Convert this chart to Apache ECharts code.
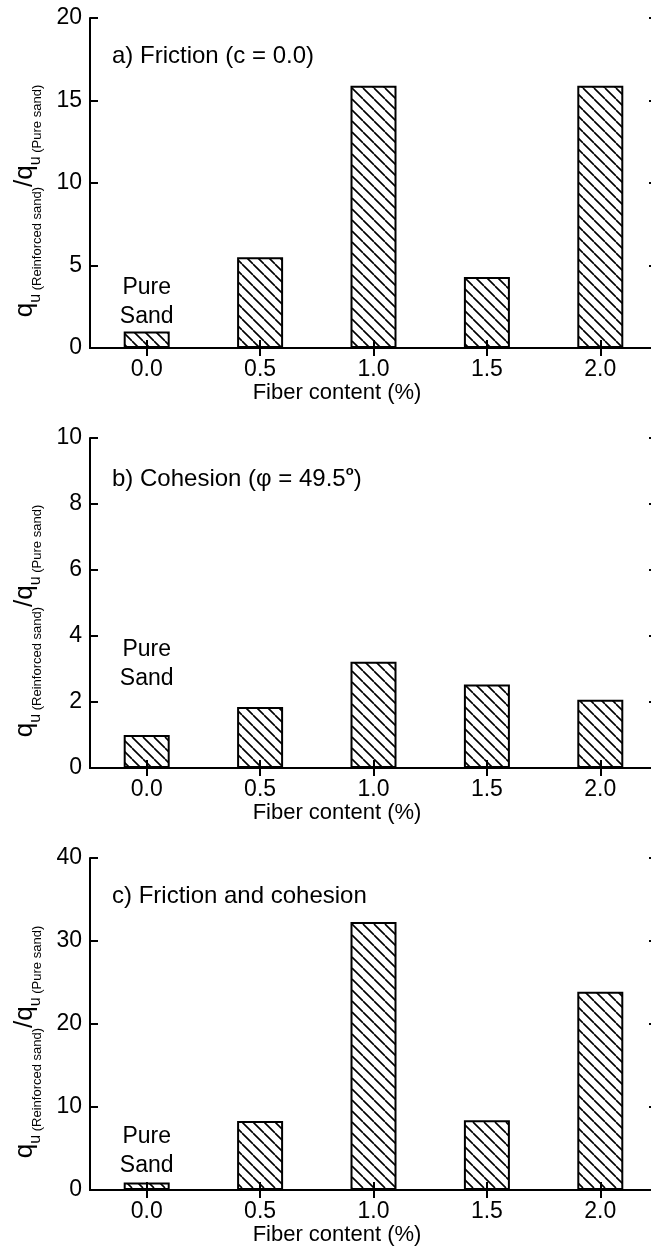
<!DOCTYPE html>
<html>
<head>
<meta charset="UTF-8">
<title>Fiber content bars</title>
<script src="https://cdn.jsdelivr.net/npm/echarts@6/dist/echarts.min.js"></script>
<style>
  body { margin: 0; background: #fff; }
  #chart { width: 651px; height: 1247px; }
</style>
</head>
<body>
<div id="chart"></div>
<script>
// data
var categories = ['0.0', '0.5', '1.0', '1.5', '2.0'];
var frictionRatio = [1.0, 5.5, 15.9, 4.3, 15.9];
var cohesionRatio = [1.0, 1.85, 3.22, 2.53, 2.07];
var bothRatio = [0.9, 8.3, 32.3, 8.4, 23.9];
var yMax = [20, 10, 40];
var yStep = [5, 2, 10];

var font = "'Liberation Sans', Arial, sans-serif";
var chart = echarts.init(document.getElementById('chart'));

// "\\\\" hatching for the bars
function hatch() {
    var s = 11;
    var c = document.createElement('canvas');
    c.width = s; c.height = s;
    var ctx = c.getContext('2d');
    ctx.fillStyle = '#fff';
    ctx.fillRect(0, 0, s, s);
    ctx.strokeStyle = '#000';
    ctx.lineWidth = 1.6;
    ctx.beginPath();
    for (var k = -1; k <= 1; k++) {
        ctx.moveTo(k * s, 0);
        ctx.lineTo(k * s + s, s);
    }
    ctx.stroke();
    return c;
}
var pattern = { image: hatch(), repeat: 'repeat' };

// the right edge of the frame sits just outside the picture
var grids = [
    { left: 90, top: 18, width: 567, height: 330, outerBoundsMode: 'none', containLabel: false },
    { left: 90, top: 438, width: 567, height: 330, outerBoundsMode: 'none', containLabel: false },
    { left: 90, top: 858, width: 567, height: 332, outerBoundsMode: 'none', containLabel: false }
];
var nameGaps = [31, 30, 28];
var pureDist = [0, 42, 2];
var seriesData = [frictionRatio, cohesionRatio, bothRatio];

var line = { show: true, lineStyle: { color: '#000', width: 2 } };
var tick = { show: true, inside: true, length: 8, lineStyle: { color: '#000', width: 2 } };

var xAxes = [], yAxes = [], series = [];
for (var i = 0; i < 3; i++) {
    xAxes.push({
        type: 'category', gridIndex: i, position: 'bottom', data: categories, z: 10,
        axisLine: line, axisTick: Object.assign({ alignWithLabel: true }, tick),
        axisLabel: { color: '#000', fontSize: 23, fontFamily: font, margin: 10 },
        name: 'Fiber content (%)', nameLocation: 'middle', nameGap: nameGaps[i],
        nameTextStyle: { color: '#000', fontSize: 22, fontFamily: font, padding: [0, 73, 0, 0] }
    });
    xAxes.push({
        type: 'category', gridIndex: i, position: 'top', data: categories, z: 10,
        axisLine: line, axisTick: Object.assign({ alignWithLabel: true }, tick),
        axisLabel: { show: false }
    });
    yAxes.push({
        type: 'value', gridIndex: i, position: 'left', min: 0, max: yMax[i], interval: yStep[i], z: 10,
        axisLine: line, axisTick: tick, splitLine: { show: false },
        axisLabel: { color: '#000', fontSize: 23, fontFamily: font, margin: 8 },
        name: '{q|q}{u|u}{s| (Reinforced sand)}{q|/q}{u|u}{s| (Pure sand)}',
        nameLocation: 'middle', nameRotate: 90, nameGap: 46,
        nameTextStyle: {
            color: '#000', fontFamily: font, padding: [0, 36, 0, 0],
            rich: {
                q: { fontSize: 26, lineHeight: 26, verticalAlign: 'top', fontFamily: font, color: '#000' },
                u: { fontSize: 16, lineHeight: 32, verticalAlign: 'bottom', fontFamily: font, color: '#000' },
                s: { fontSize: 13, lineHeight: 32, verticalAlign: 'bottom', fontFamily: font, color: '#000' }
            }
        }
    });
    yAxes.push({
        type: 'value', gridIndex: i, position: 'right', min: 0, max: yMax[i], interval: yStep[i],
        axisLine: line, axisTick: tick, splitLine: { show: false }, axisLabel: { show: false }
    });
    var d = seriesData[i].map(function (v, j) {
        if (j !== 0) return v;
        return {
            value: v,
            label: {
                show: true, position: 'top', distance: pureDist[i], formatter: 'Pure\nSand',
                color: '#000', fontSize: 23, lineHeight: 29, fontFamily: font
            }
        };
    });
    series.push({
        type: 'bar', xAxisIndex: 2 * i, yAxisIndex: 2 * i, barWidth: 46, data: d,
        itemStyle: { color: pattern, borderColor: '#000', borderWidth: 2 }
    });
}

var titleStyle = { color: '#000', fontSize: 24, lineHeight: 28, fontFamily: font, fontWeight: 'normal' };
var option = {
    animation: false,
    backgroundColor: '#fff',
    title: [
        { text: 'a) Friction (c = 0.0)', left: 112, top: 42, padding: 0, textStyle: titleStyle },
        {
            text: '{t|b) Cohesion (φ = 49.5}{o|o}{t|)}', left: 112, top: 465, padding: 0,
            textStyle: {
                rich: {
                    t: titleStyle,
                    o: { color: '#000', fontSize: 13, lineHeight: 14, verticalAlign: 'top', fontFamily: font }
                }
            }
        },
        { text: 'c) Friction and cohesion', left: 112, top: 882, padding: 0, textStyle: titleStyle }
    ],
    grid: grids,
    xAxis: xAxes,
    yAxis: yAxes,
    series: series
};
chart.setOption(option);
</script>
</body>
</html>
